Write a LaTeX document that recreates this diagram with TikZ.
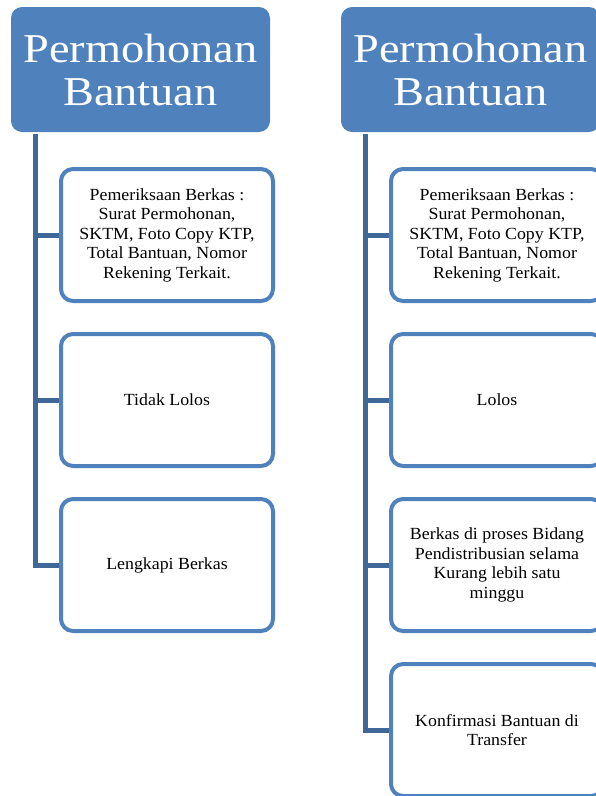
\documentclass[tikz,border=0pt]{standalone}
\usepackage{fontspec}
\setmainfont{Liberation Serif}[FakeStretch=1.13]
\newfontfamily\bodyfont{Liberation Serif}[FakeStretch=1.05]
\definecolor{boxblue}{HTML}{4F81BD}
\definecolor{trunkblue}{HTML}{3F6899}
\begin{document}
\begin{tikzpicture}[x=1pt,y=1pt,
  head/.style={rectangle, rounded corners=11pt, fill=boxblue, draw=none,
    minimum width=259pt, minimum height=125pt, inner sep=0pt, text=white,
    align=center, font=\fontsize{41}{43}\selectfont},
  child/.style={rectangle, rounded corners=12pt, draw=boxblue, line width=4pt, fill=white,
    minimum width=212pt, minimum height=132pt, inner sep=0pt,
    align=center, font=\bodyfont\fontsize{17}{19.5}\selectfont},
  trunk/.style={draw=trunkblue, line width=5pt}]
\useasboundingbox (0,0) rectangle (596,-796);
\clip (0,0) rectangle (596,-796);
% left column
\node[head] (hL) at (140.5,-69.5) {Permohonan\\Bantuan};
\node[child] (a1) at (167,-235) {Pemeriksaan Berkas :\\Surat Permohonan,\\SKTM, Foto Copy KTP,\\Total Bantuan, Nomor\\Rekening Terkait.};
\node[child] (a2) at (167,-400) {Tidak Lolos};
\node[child] (a3) at (167,-565) {Lengkapi Berkas};
\coordinate (tL) at (35,-134);
\draw[trunk] (tL) |- (a3.west);
\draw[trunk] (tL |- a1.west) -- (a1.west);
\draw[trunk] (tL |- a2.west) -- (a2.west);
% right column
\node[head] (hR) at (470.5,-69.5) {Permohonan\\Bantuan};
\node[child] (b1) at (497,-235) {Pemeriksaan Berkas :\\Surat Permohonan,\\SKTM, Foto Copy KTP,\\Total Bantuan, Nomor\\Rekening Terkait.};
\node[child] (b2) at (497,-400) {Lolos};
\node[child] (b3) at (497,-565) {Berkas di proses Bidang\\Pendistribusian selama\\Kurang lebih satu\\minggu};
\node[child] (b4) at (497,-730) {Konfirmasi Bantuan di\\Transfer};
\coordinate (tR) at (365,-134);
\draw[trunk] (tR) |- (b4.west);
\draw[trunk] (tR |- b1.west) -- (b1.west);
\draw[trunk] (tR |- b2.west) -- (b2.west);
\draw[trunk] (tR |- b3.west) -- (b3.west);
\end{tikzpicture}
\end{document}
